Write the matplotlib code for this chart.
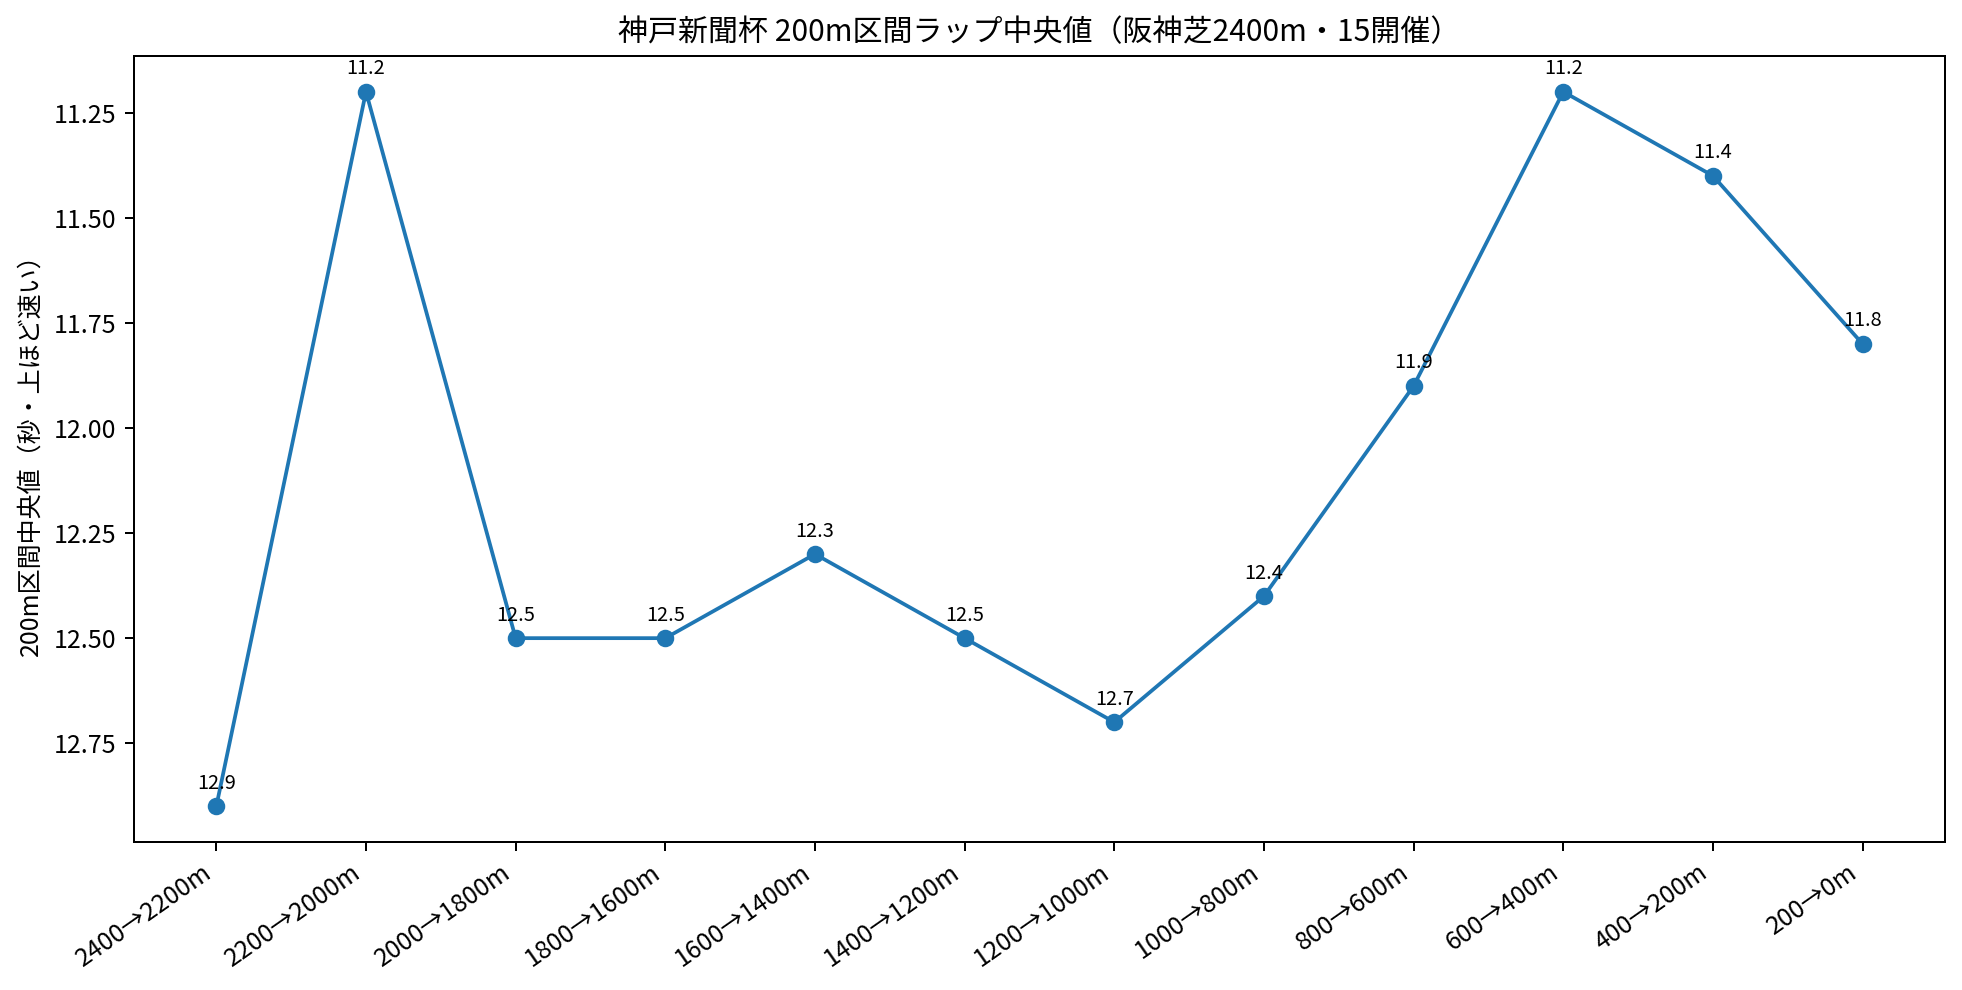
import matplotlib
matplotlib.use("Agg")
import matplotlib.pyplot as plt

plt.rcParams['font.family'] = ['Noto Sans CJK JP', 'DejaVu Sans']

# 200m section labels and median lap times (sec)
sections = ["2400→2200m", "2200→2000m", "2000→1800m", "1800→1600m",
            "1600→1400m", "1400→1200m", "1200→1000m", "1000→800m",
            "800→600m", "600→400m", "400→200m", "200→0m"]
laps = [12.9, 11.2, 12.5, 12.5, 12.3, 12.5, 12.7, 12.4, 11.9, 11.2, 11.4, 11.8]

fig, ax = plt.subplots(figsize=(10.9, 5.5), dpi=180)
x = list(range(len(sections)))
ax.plot(x, laps, marker='o')

for xi, v in zip(x, laps):
    ax.annotate(f"{v:.1f}", (xi, v), textcoords="offset points",
                xytext=(0, 7), ha='center', fontsize=8)

ax.invert_yaxis()
ax.set_xticks(x)
ax.set_xticklabels(sections, rotation=35, ha='right')
ax.set_ylabel("200m区間中央値（秒・上ほど速い）")
ax.set_title("神戸新聞杯 200m区間ラップ中央値（阪神芝2400m・15開催）")

fig.subplots_adjust(left=0.0683, right=0.9913, top=0.9434, bottom=0.1495)
fig.savefig("out.png", dpi=180)
